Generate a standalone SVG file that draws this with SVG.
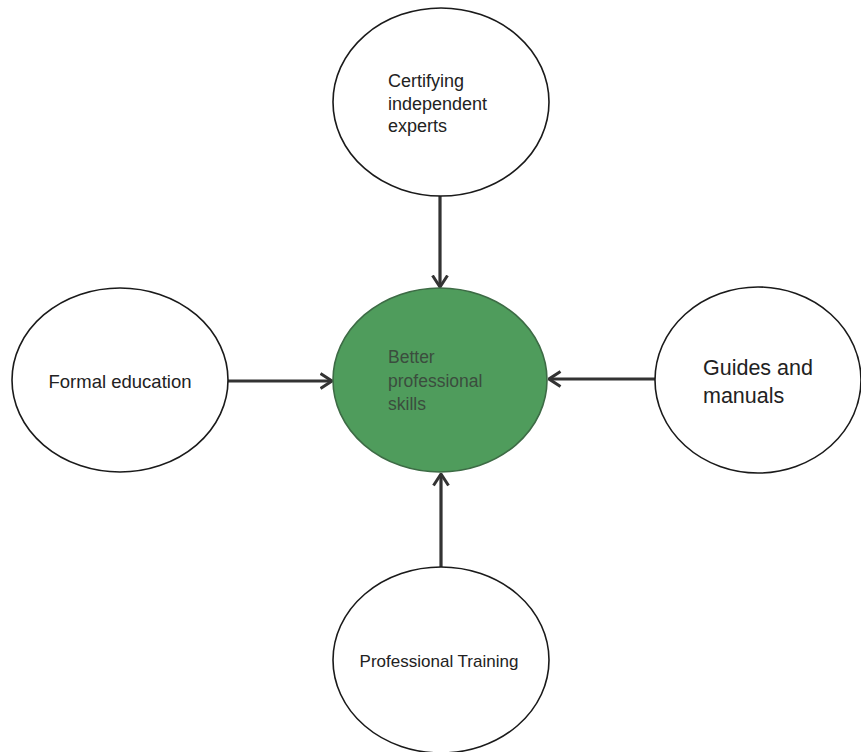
<svg xmlns="http://www.w3.org/2000/svg" width="861" height="752" viewBox="0 0 861 752">
<style>
.node{fill:#fff;stroke:#1a1a1a;stroke-width:1.6}
.hub{fill:#4f9c5c;stroke:#3d6b45;stroke-width:1.6}
.lbl{font-family:"Liberation Sans",Arial,sans-serif;fill:#222}
.hubl{font-family:"Liberation Sans",Arial,sans-serif;fill:#3b4d3e}
.conn{stroke:#333;stroke-width:3.2;fill:none;marker-end:url(#arr)}
</style>
<defs>
<marker id="arr" viewBox="0 0 14 18" refX="12.5" refY="9" markerWidth="14" markerHeight="18" markerUnits="userSpaceOnUse" orient="auto">
<path d="M1,1.5 L12.5,9 L1,16.5" fill="none" stroke="#333" stroke-width="3"/>
</marker>
</defs>
<rect width="861" height="752" fill="#fff"/>
<g id="connectors">
<line class="conn" x1="440" y1="196" x2="440" y2="287"/>
<line class="conn" x1="228" y1="381" x2="332" y2="381"/>
<line class="conn" x1="655" y1="379" x2="549" y2="379"/>
<line class="conn" x1="441" y1="567" x2="441" y2="474"/>
</g>
<g id="hub">
<ellipse class="hub" cx="440" cy="380" rx="107" ry="92"/>
<text class="hubl" font-size="17.5" x="388" y="363">Better</text>
<text class="hubl" font-size="17.5" x="388" y="387">professional</text>
<text class="hubl" font-size="17.5" x="388" y="410">skills</text>
</g>
<g id="certifying">
<ellipse class="node" cx="441" cy="102" rx="108" ry="94"/>
<text class="lbl" font-size="18" x="388" y="87">Certifying</text>
<text class="lbl" font-size="18" x="388" y="110">independent</text>
<text class="lbl" font-size="18" x="388" y="132">experts</text>
</g>
<g id="formal">
<ellipse class="node" cx="120" cy="380" rx="108" ry="92"/>
<text class="lbl" font-size="18.5" x="120" y="388" text-anchor="middle">Formal education</text>
</g>
<g id="guides">
<ellipse class="node" cx="758" cy="380" rx="103" ry="93"/>
<text class="lbl" font-size="21.5" x="703" y="375">Guides and</text>
<text class="lbl" font-size="21.5" x="703" y="403">manuals</text>
</g>
<g id="training">
<ellipse class="node" cx="441" cy="660" rx="108" ry="93"/>
<text class="lbl" font-size="17" x="439" y="667" text-anchor="middle">Professional Training</text>
</g>
</svg>
